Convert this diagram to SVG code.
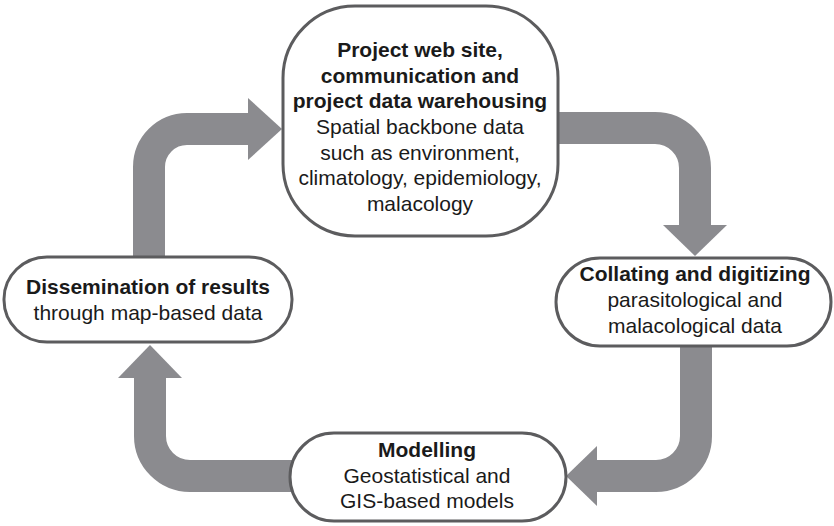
<svg xmlns="http://www.w3.org/2000/svg" width="834" height="526" viewBox="0 0 834 526">
<style>
.shaft{fill:none;stroke:#8b8b8f;stroke-width:32}
.head{fill:#8b8b8f}
.box{fill:#fff;stroke:#5c5c5e;stroke-width:3}
text{font-family:"Liberation Sans",Arial,sans-serif;font-size:21px;fill:#1a1a1a;text-anchor:middle}
.b{font-weight:bold}
</style>
<rect width="834" height="526" fill="#fff"/>
<g id="connectors">
<path class="shaft" d="M149,260 V167 A38,38 0 0 1 187,129 H250"/>
<polygon class="head" points="248,98 282,129 248,160"/>
<path class="shaft" d="M554,128 H655 A40,40 0 0 1 695,168 V227"/>
<polygon class="head" points="663,225 727,225 695,256"/>
<path class="shaft" d="M696,343 V436 A40,40 0 0 1 656,476 H595"/>
<polygon class="head" points="597,446 597,506 566,476"/>
<path class="shaft" d="M292,476 H190 A40,40 0 0 1 150,436 V376"/>
<polygon class="head" points="118,378 182,378 150,345"/>
</g>
<g id="node-top">
<rect class="box" x="283" y="6" width="275" height="230" rx="72" ry="72"/>
<text x="420" y="57" class="b">Project web site,</text>
<text x="420" y="83" class="b">communication and</text>
<text x="420" y="108" class="b">project data warehousing</text>
<text x="420" y="134">Spatial backbone data</text>
<text x="420" y="160">such as environment,</text>
<text x="420" y="185">climatology, epidemiology,</text>
<text x="420" y="211">malacology</text>
</g>
<g id="node-right">
<rect class="box" x="556" y="258" width="275" height="88" rx="44" ry="44"/>
<text x="695" y="281" class="b">Collating and digitizing</text>
<text x="695" y="307">parasitological and</text>
<text x="695" y="333">malacological data</text>
</g>
<g id="node-bottom">
<rect class="box" x="290" y="433" width="276" height="88" rx="44" ry="44"/>
<text x="427" y="457" class="b">Modelling</text>
<text x="427" y="483">Geostatistical and</text>
<text x="427" y="508">GIS-based models</text>
</g>
<g id="node-left">
<rect class="box" x="4" y="257" width="288" height="85" rx="43" ry="42"/>
<text x="148" y="294" class="b">Dissemination of results</text>
<text x="148" y="320">through map-based data</text>
</g>
</svg>
